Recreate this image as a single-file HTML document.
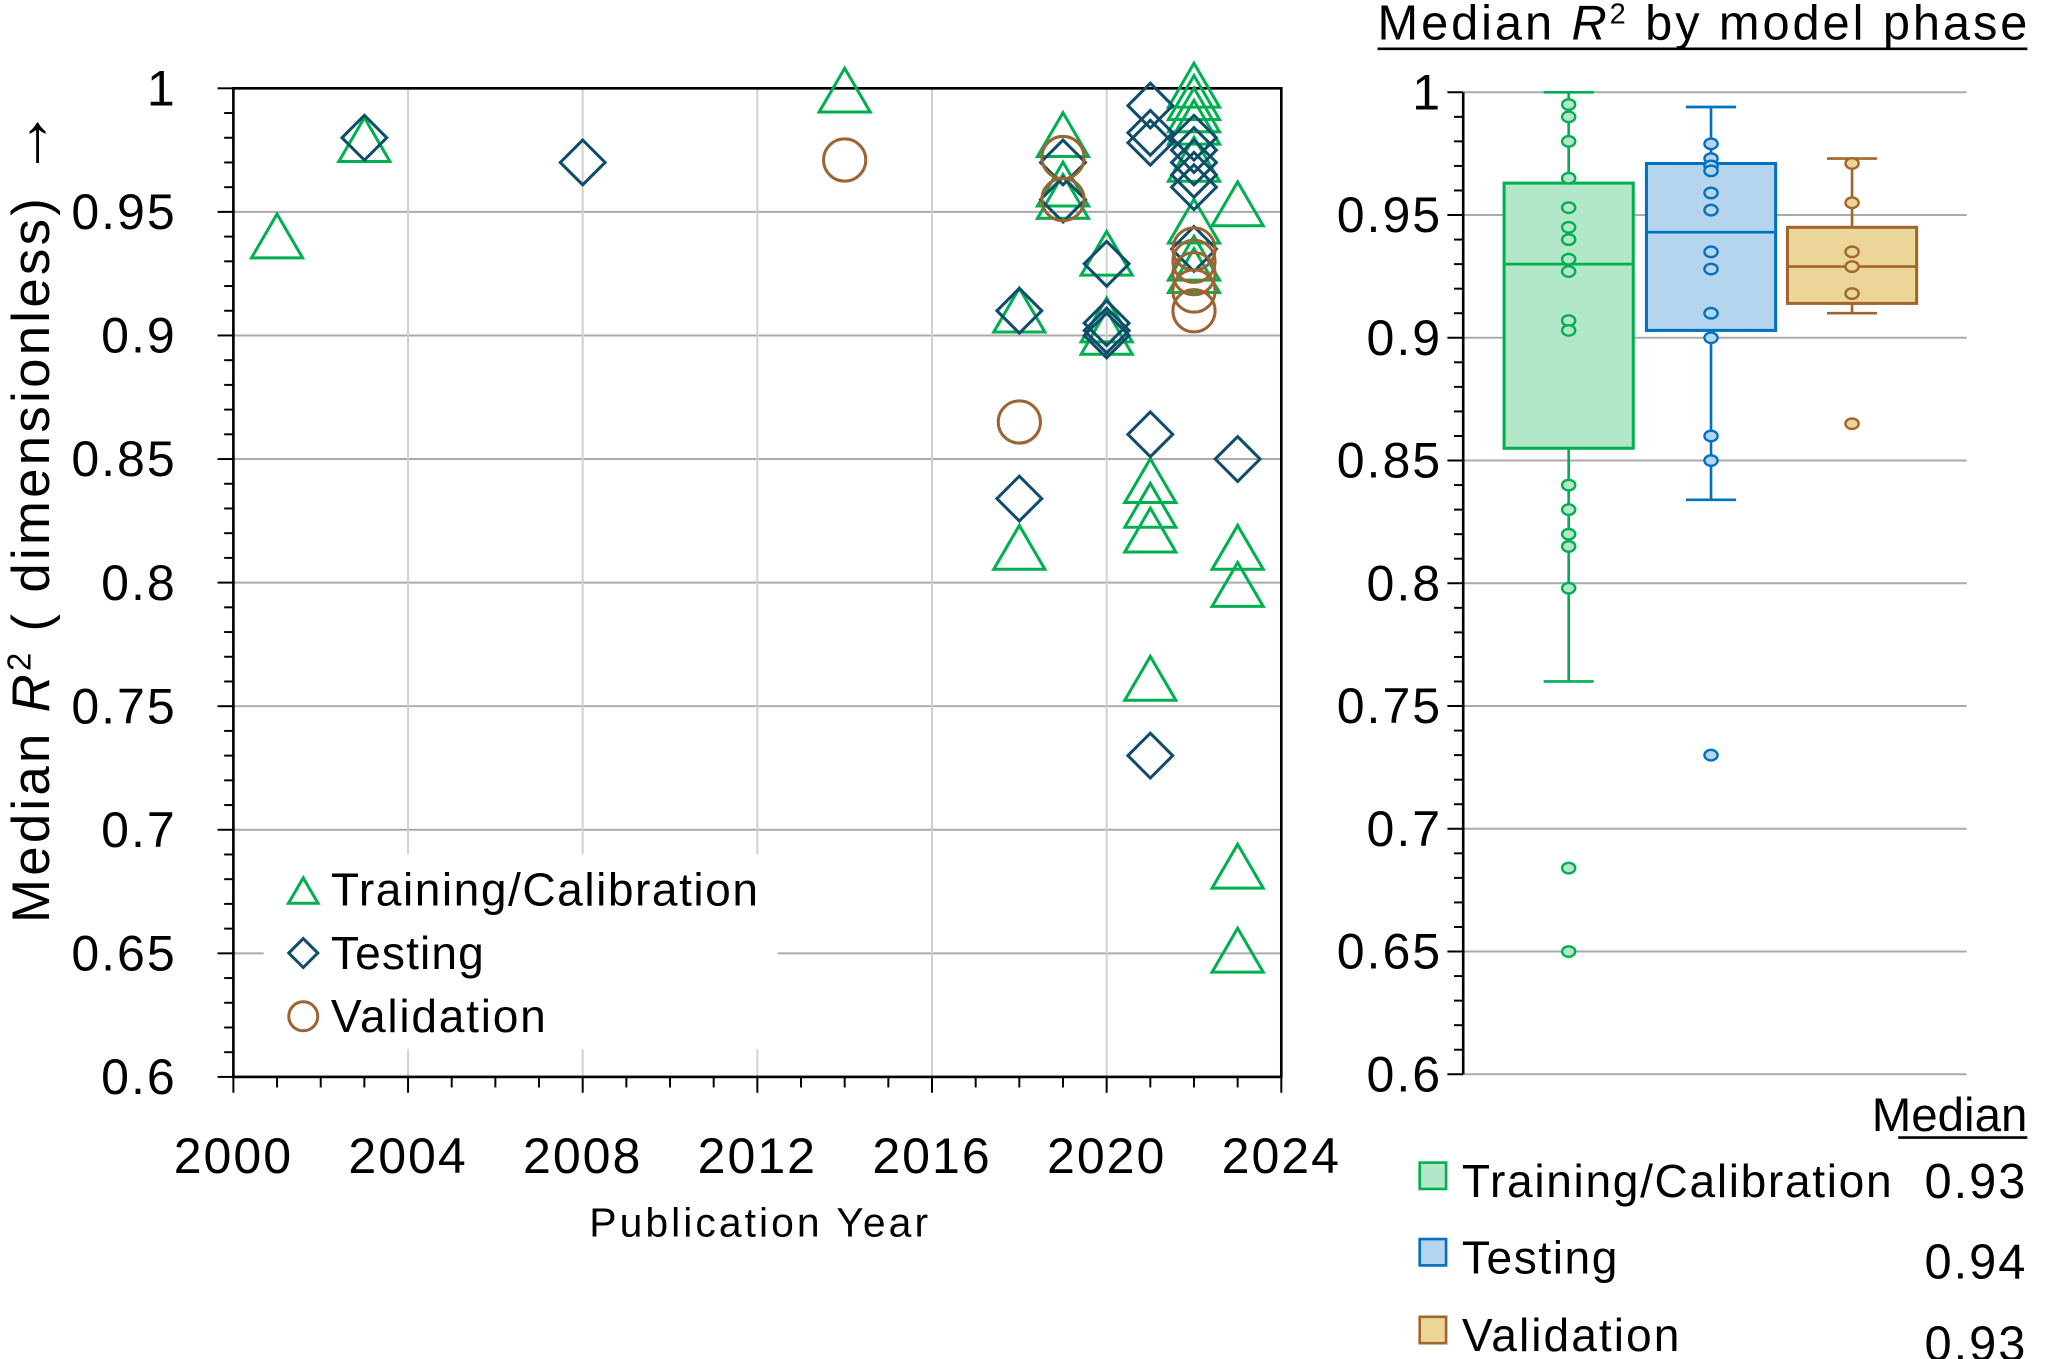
<!DOCTYPE html>
<html><head><meta charset="utf-8"><style>
html,body{margin:0;padding:0;background:#fff}
svg{display:block}
text{font-family:"Liberation Sans",sans-serif;fill:#000}
</style></head><body>
<svg id="chart" width="2067" height="1359" viewBox="0 0 1568 1031" xmlns="http://www.w3.org/2000/svg">
<g id="left"></g>
<g id="right"></g>
</svg>
<script>
const trainYears=[2001,2003,2014,2018,2018,2019,2019,2019,2020,2020,2020,2021,2021,2021,2021,2022,2022,2022,2022,2022,2022,2022,2022,2023,2023,2023,2023,2023];
const trainVals=[0.939,0.978,0.998,0.909,0.813,0.98,0.96,0.955,0.932,0.9,0.905,0.84,0.83,0.82,0.76,1.0,0.995,0.99,0.985,0.97,0.945,0.93,0.925,0.952,0.813,0.798,0.684,0.65];
const testYears=[2003,2008,2018,2018,2019,2019,2020,2020,2020,2020,2021,2021,2021,2021,2021,2022,2022,2022,2022,2022,2022,2023];
const testVals=[0.98,0.97,0.91,0.834,0.97,0.955,0.929,0.905,0.9,0.902,0.993,0.982,0.978,0.86,0.73,0.98,0.975,0.97,0.965,0.96,0.935,0.85];
const valYears=[2014,2018,2019,2019,2022,2022,2022,2022,2022];
const valVals=[0.971,0.865,0.972,0.955,0.935,0.93,0.925,0.918,0.91];
const xTicks=[2000,2004,2008,2012,2016,2020,2024];
const yTicks=[0.6,0.65,0.7,0.75,0.8,0.85,0.9,0.95,1];
const yTickLabels=["0.6","0.65","0.7","0.75","0.8","0.85","0.9","0.95","1"];
const boxNames=["Training/Calibration","Testing","Validation"];
const boxQ1=[0.855,0.903,0.914];
const boxMed=[0.93,0.943,0.929];
const boxQ3=[0.963,0.971,0.945];
const boxLo=[0.76,0.834,0.91];
const boxHi=[1.0,0.994,0.973];
const boxPtsTrain=[0.995,0.99,0.98,0.965,0.953,0.945,0.94,0.932,0.927,0.907,0.903,0.84,0.83,0.82,0.815,0.798,0.684,0.65];
const boxPtsTest=[0.979,0.973,0.97,0.968,0.959,0.952,0.935,0.928,0.91,0.9,0.86,0.85,0.73];
const boxPtsVal=[0.971,0.955,0.935,0.929,0.918,0.865];
const medianLabels=["0.93","0.94","0.93"];

const NS="http://www.w3.org/2000/svg";
function mk(parent,tag,attrs,txt){const e=document.createElementNS(NS,tag);for(const k in attrs)e.setAttribute(k,attrs[k]);if(txt!==undefined)e.textContent=txt;parent.appendChild(e);return e;}
const L=document.getElementById('left'),R=document.getElementById('right');
const GREEN="#00b050",NAVY="#0f4d6b",BROWN="#9c6430";
const x0=177,x1=972,yT=67,yB=817;
const xs=v=>x0+(v-2000)/24*(x1-x0);
const ys=v=>yB-(v-0.6)/0.4*(yB-yT);
yTicks.forEach((t,i)=>{let g=mk(L,'line',{x1:x0,x2:x1,y1:ys(t),y2:ys(t),stroke:'#aaa','stroke-width':1.5});
let tx=mk(L,'text',{x:134,y:ys(t)+13,'font-size':38,'letter-spacing':1.5,'text-anchor':'end'},yTickLabels[i]);});
xTicks.forEach(t=>{if(t>2000&&t<2024){let g=mk(L,'line',{x1:xs(t),x2:xs(t),y1:yT,y2:yB,stroke:'#d0d0d0','stroke-width':1.5});}
let tx=mk(L,'text',{x:xs(t),y:890,'font-size':38,'letter-spacing':1.5,'text-anchor':'middle'},String(t));});
for(let y=2000;y<=2024;y++){mk(L,'line',{x1:xs(y),x2:xs(y),y1:yB,y2:yB+(y%4==0?12:8),stroke:'#000','stroke-width':1.5});}
for(let v=0;v<=40;v++){const yy=yB-v/40*(yB-yT);mk(L,'line',{x1:x0-(v%5==0?12:7),x2:x0,y1:yy,y2:yy,stroke:'#000','stroke-width':1.5});}
let fr=mk(L,'rect',{x:x0,y:yT,width:x1-x0,height:yB-yT,fill:'none',stroke:'#000','stroke-width':2});
let lb=mk(L,'rect',{x:200,y:648,width:390,height:148,fill:'#fff'});
function tri(p,cx,cy,s,c){return mk(p,'polygon',{points:`${cx},${cy-s} ${cx-s*1.02},${cy+s*0.75} ${cx+s*1.02},${cy+s*0.75}`,fill:'none',stroke:c,'stroke-width':2.3});}
function dia(p,cx,cy,s,c){return mk(p,'polygon',{points:`${cx},${cy-s} ${cx+s},${cy} ${cx},${cy+s} ${cx-s},${cy}`,fill:'none',stroke:c,'stroke-width':2.3});}
trainYears.forEach((y,i)=>{let e=tri(L,xs(y),ys(trainVals[i]),19,GREEN);});
testYears.forEach((y,i)=>{let e=dia(L,xs(y),ys(testVals[i]),17,NAVY);});
valYears.forEach((y,i)=>{let e=mk(L,'circle',{cx:xs(y),cy:ys(valVals[i]),r:16,fill:'none',stroke:BROWN,'stroke-width':2.3});});
let le;
le=tri(L,230,677,11,GREEN);
le=mk(L,'text',{x:251,y:687,'font-size':35,textLength:324,lengthAdjust:'spacing'},'Training/Calibration');
le=dia(L,230,723,11,NAVY);
le=mk(L,'text',{x:251,y:735,'font-size':35,textLength:116,lengthAdjust:'spacing'},'Testing');
le=mk(L,'circle',{cx:230,cy:771,r:11,fill:'none',stroke:BROWN,'stroke-width':2.3});
le=mk(L,'text',{x:251,y:783,'font-size':35,textLength:163,lengthAdjust:'spacing'},'Validation');
le=mk(L,'text',{x:447,y:938,'font-size':31,textLength:257,lengthAdjust:'spacing'},'Publication Year');
le=mk(L,'text',{x:0,y:0,'font-size':40,'letter-spacing':2.5,'text-anchor':'middle',transform:'translate(37,390) rotate(-90)'});
le.innerHTML='Median <tspan font-style="italic">R</tspan><tspan font-size="25" dy="-14">2</tspan><tspan dy="14"> ( dimensionless) </tspan><tspan font-size="52">→</tspan>';
const rx0=1110,rx1=1492,rT=70,rB=815;
const rys=v=>rB-(v-0.6)/0.4*(rB-rT);
yTicks.forEach((t,i)=>{let g=mk(R,'line',{x1:rx0,x2:rx1,y1:rys(t),y2:rys(t),stroke:'#aaa','stroke-width':1.5});
let tx=mk(R,'text',{x:1094,y:rys(t)+13,'font-size':38,'letter-spacing':1.5,'text-anchor':'end'},yTickLabels[i]);});
for(let v=0;v<=40;v++){const yy=rB-v/40*(rB-rT);mk(R,'line',{x1:rx0-(v%5==0?12:7),x2:rx0,y1:yy,y2:yy,stroke:'#000','stroke-width':1.5});}
mk(R,'line',{x1:rx0,x2:rx0,y1:rT,y2:rB,stroke:'#000','stroke-width':2});
const centers=[1190,1298,1405],bw=98;
const fills=["#b3e7c9","#b5d4ee","#ecd598"],strokes=["#00b050","#0070c0","#a0672c"];
const pts=[boxPtsTrain,boxPtsTest,boxPtsVal];
centers.forEach((c,i)=>{
 let w=mk(R,'line',{x1:c,x2:c,y1:rys(boxHi[i]),y2:rys(boxLo[i]),stroke:strokes[i],'stroke-width':2});
 [boxHi[i],boxLo[i]].forEach(v=>mk(R,'line',{x1:c-19,x2:c+19,y1:rys(v),y2:rys(v),stroke:strokes[i],'stroke-width':2}));
 let b=mk(R,'rect',{x:c-bw/2,y:rys(boxQ3[i]),width:bw,height:rys(boxQ1[i])-rys(boxQ3[i]),fill:fills[i],stroke:strokes[i],'stroke-width':2.3});
 let m=mk(R,'line',{x1:c-bw/2,x2:c+bw/2,y1:rys(boxMed[i]),y2:rys(boxMed[i]),stroke:strokes[i],'stroke-width':2});
 pts[i].forEach(v=>{let p=mk(R,'ellipse',{cx:c,cy:rys(v),rx:5,ry:4,fill:fills[i],stroke:strokes[i],'stroke-width':1.8});});
});
let t=mk(R,'text',{x:1045,y:30,'font-size':37,textLength:493,lengthAdjust:'spacing'});
t.innerHTML='Median <tspan font-style="italic">R</tspan><tspan font-size="22" dy="-12">2</tspan><tspan dy="12"> by model phase</tspan>';
mk(R,'line',{x1:1045,x2:1538,y1:37,y2:37,stroke:'#000','stroke-width':2});
t=mk(R,'text',{x:1538,y:858,'font-size':36,'text-anchor':'end'},'Median');
mk(R,'line',{x1:1440,x2:1538,y1:863,y2:863,stroke:'#000','stroke-width':2});
const rowY=[895,953,1012];
const labLen=[326,118,165];
boxNames.forEach((n,i)=>{
 let s=mk(R,'rect',{x:1077,y:rowY[i]-13,width:20,height:20,fill:fills[i],stroke:strokes[i],'stroke-width':2});
 let a=mk(R,'text',{x:1109,y:rowY[i]+13,'font-size':35,textLength:labLen[i],lengthAdjust:'spacing'},n);
 let b=mk(R,'text',{x:1538,y:rowY[i]+14+(i*3),'font-size':37,'letter-spacing':1.5,'text-anchor':'end'},medianLabels[i]);
});
</script>
</body></html>
